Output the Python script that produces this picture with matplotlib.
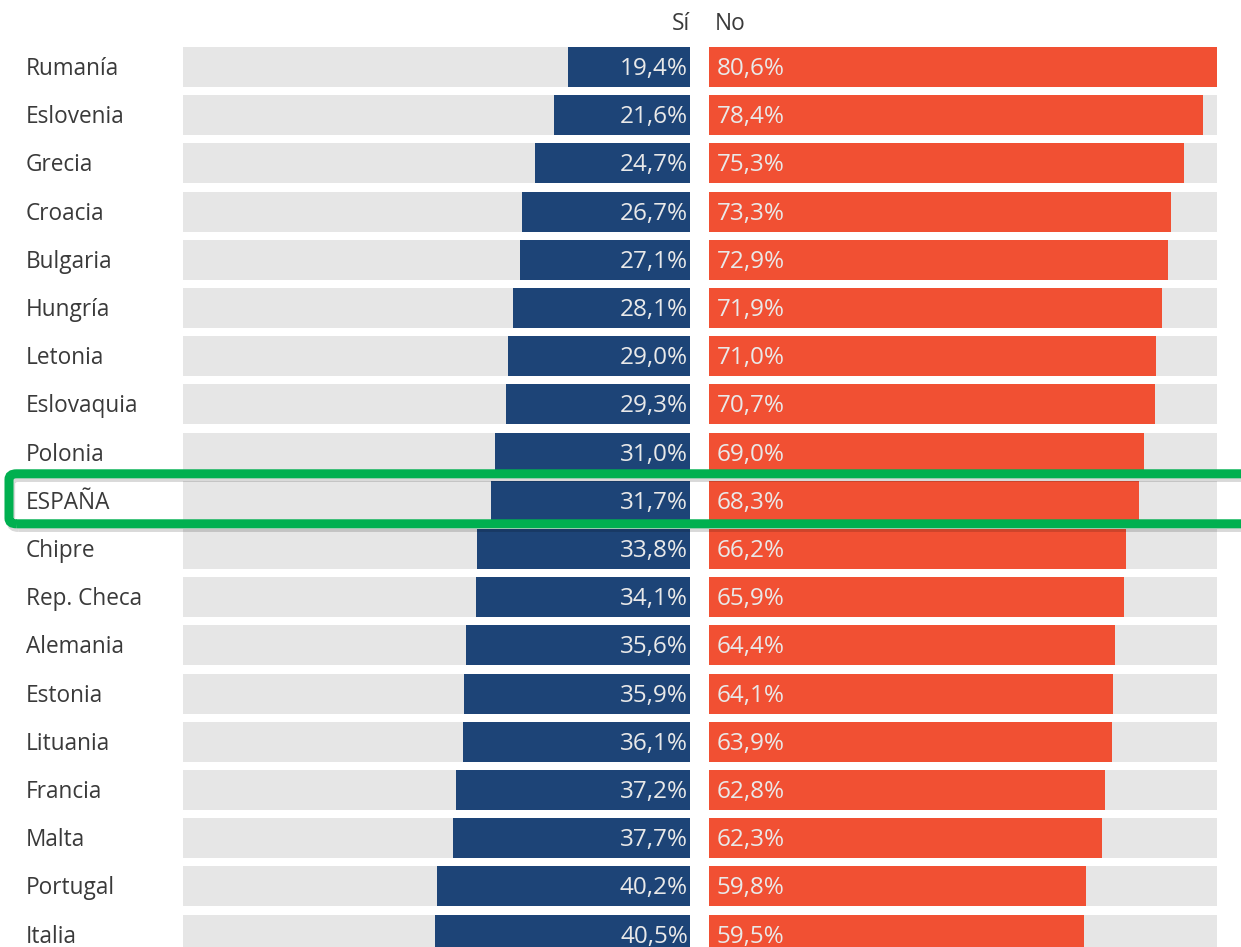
import matplotlib.pyplot as plt
from matplotlib.patches import FancyBboxPatch

countries = ["Rumanía", "Eslovenia", "Grecia", "Croacia", "Bulgaria", "Hungría",
             "Letonia", "Eslovaquia", "Polonia", "ESPAÑA", "Chipre", "Rep. Checa",
             "Alemania", "Estonia", "Lituania", "Francia", "Malta", "Portugal", "Italia"]
si = [19.4, 21.6, 24.7, 26.7, 27.1, 28.1, 29.0, 29.3, 31.0, 31.7, 33.8, 34.1,
      35.6, 35.9, 36.1, 37.2, 37.7, 40.2, 40.5]
no = [80.6, 78.4, 75.3, 73.3, 72.9, 71.9, 71.0, 70.7, 69.0, 68.3, 66.2, 65.9,
      64.4, 64.1, 63.9, 62.8, 62.3, 59.8, 59.5]
headers = ["Sí", "No"]
highlight = "ESPAÑA"

plt.rcParams['font.family'] = ['Open Sans', 'DejaVu Sans']

W, H = 1241, 947
fig = plt.figure(figsize=(W / 100, H / 100), dpi=100)

BLUE = "#1d4477"
ORANGE = "#f15033"
GRAY = "#e6e6e6"
TXT = "#3a3a3a"
VAL = "#e9e9e9"

row_h = 48.2
y0 = 67
ytop = -y0 / row_h
ybot = (H - y0) / row_h
XMAX = 80.6

axL = fig.add_axes([183 / W, 0, (690 - 183) / W, 1])
axR = fig.add_axes([709 / W, 0, (1217 - 709) / W, 1])
n = len(countries)
ys = list(range(n))
bh = 0.83

axL.barh(ys, [XMAX] * n, height=bh, color=GRAY)
axL.barh(ys, si, height=bh, color=BLUE)
axL.set_xlim(XMAX, 0)
axR.barh(ys, [XMAX] * n, height=bh, color=GRAY)
axR.barh(ys, no, height=bh, color=ORANGE)
axR.set_xlim(0, XMAX)

for ax in (axL, axR):
    ax.set_ylim(ybot, ytop)
    ax.axis('off')

dy = 2 / row_h
for i, (s, v) in enumerate(zip(si, no)):
    axL.text(0.3, i + dy, f"{s:.1f}%".replace('.', ','), ha='right', va='center',
             color=VAL, fontsize=17.5)
    axR.text(1.2, i + dy, f"{v:.1f}%".replace('.', ','), ha='left', va='center',
             color=VAL, fontsize=17.5)

for i, c in enumerate(countries):
    fig.text(26 / W, 1 - (y0 + 2 + row_h * i) / H, c, ha='left', va='center',
             color=TXT, fontsize=16.3)

fig.text(690 / W, 1 - 24 / H, headers[0], ha='right', va='center', color=TXT, fontsize=16.3)
fig.text(715 / W, 1 - 24 / H, headers[1], ha='left', va='center', color=TXT, fontsize=16.3)

hi = countries.index(highlight)
yc = y0 + row_h * hi
box_top = yc - 27
box_bot = yc + 23
sh = FancyBboxPatch((11 / W, 1 - (box_bot + 4) / H),
                    (1300 - 9) / W, (box_bot - box_top) / H,
                    boxstyle="round,pad=0,rounding_size=0.006",
                    transform=fig.transFigure, fill=False, edgecolor="#000000",
                    alpha=0.15, linewidth=6, zorder=9)
fig.add_artist(sh)
box = FancyBboxPatch((9 / W, 1 - box_bot / H), (1300 - 9) / W, (box_bot - box_top) / H,
                     boxstyle="round,pad=0,rounding_size=0.006",
                     transform=fig.transFigure, fill=False, edgecolor="#00b050",
                     linewidth=6.5, zorder=10)
fig.add_artist(box)

fig.savefig("out.png", dpi=100, facecolor="white")
